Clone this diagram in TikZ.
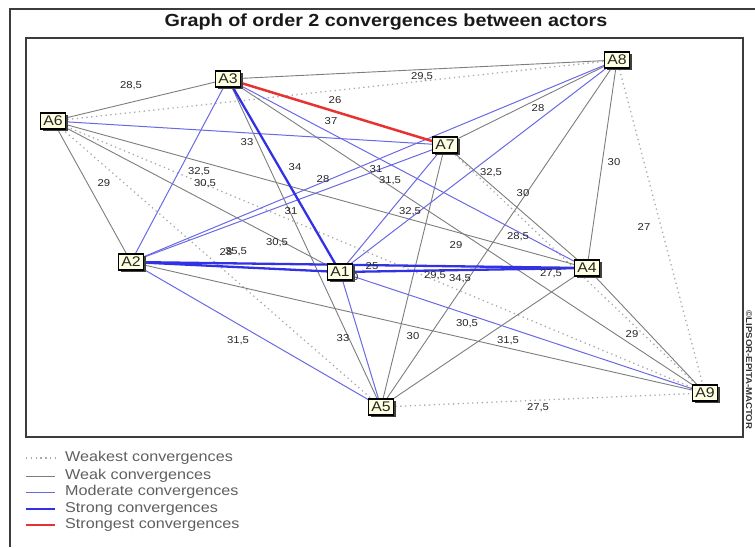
\documentclass[tikz,border=0pt]{standalone}
\usepackage{fontspec}
\setmainfont{Liberation Sans}[FakeStretch=1.13]
\usetikzlibrary{shadows}
\pgfdeclarelayer{edges}
\pgfdeclarelayer{labels}
\pgfsetlayers{edges,labels,main}
\definecolor{weakc}{RGB}{125,125,125}
\definecolor{dotc}{RGB}{170,170,170}
\definecolor{modc}{RGB}{105,105,228}
\definecolor{strongc}{RGB}{50,50,228}
\definecolor{redc}{RGB}{232,50,50}
\definecolor{nodefill}{RGB}{255,255,225}
\definecolor{framec}{RGB}{60,60,60}
\definecolor{legtext}{RGB}{95,95,95}
\tikzset{
  actor/.style={draw=black, line width=1.2pt, fill=nodefill, minimum width=25pt, minimum height=16pt,
    inner sep=0pt, font=\fontsize{14}{14}\selectfont, text=black!85,
    drop shadow={shadow xshift=2pt, shadow yshift=-2pt, fill=black!75, opacity=1}},
  weakest/.style={dotc, line width=1.3pt, dash pattern=on 1.3pt off 3.5pt},
  weak/.style={weakc, line width=0.9pt},
  moderate/.style={modc, line width=1pt},
  strong/.style={strongc, line width=2.3pt},
  strongest/.style={redc, line width=2.5pt},
  lbl/.style={font=\fontsize{10}{10}\selectfont, text=black!85, inner sep=0pt},
  legtxt/.style={font=\fontsize{14.3}{14.3}\selectfont, text=legtext, anchor=west, inner sep=0pt}
}
\begin{document}
\begin{tikzpicture}[x=1pt, y=-1pt]
\useasboundingbox (0,0) rectangle (755,547);
% frames
\coordinate (fo1) at (10,547);
\coordinate (fo2) at (10,9);
\coordinate (fo3) at (755,9);
\draw[framec, line width=1.6pt] (fo1) -- (fo2) -- (fo3);
\draw[framec, line width=1.4pt] (26,38) rectangle (743,437);
% title
\node[font=\bfseries\fontsize{17.5}{17.5}\selectfont, text=black!90] (title) at (386,22) {Graph of order 2 convergences between actors};
% actors
\node[actor] (A1) at (340,272) {A1};
\node[actor] (A2) at (131,262) {A2};
\node[actor] (A3) at (228,79) {A3};
\node[actor] (A4) at (587,268) {A4};
\node[actor] (A5) at (381,407) {A5};
\node[actor] (A6) at (53,121) {A6};
\node[actor] (A7) at (445,145) {A7};
\node[actor] (A8) at (617,60) {A8};
\node[actor] (A9) at (705,393) {A9};
\begin{pgfonlayer}{edges}
% weakest
\draw[weakest] (A5.center) -- (A6.center);
\draw[weakest] (A5.center) -- (A9.center);
\draw[weakest] (A6.center) -- (A8.center);
\draw[weakest] (A6.center) -- (A9.center);
\draw[weakest] (A7.center) -- (A9.center);
\draw[weakest] (A8.center) -- (A9.center);
% weak
\draw[weak] (A1.center) -- (A6.center);
\draw[weak] (A2.center) -- (A6.center);
\draw[weak] (A2.center) -- (A9.center);
\draw[weak] (A3.center) -- (A5.center);
\draw[weak] (A3.center) -- (A6.center);
\draw[weak] (A3.center) -- (A8.center);
\draw[weak] (A3.center) -- (A9.center);
\draw[weak] (A4.center) -- (A5.center);
\draw[weak] (A4.center) -- (A6.center);
\draw[weak] (A4.center) -- (A7.center);
\draw[weak] (A4.center) -- (A8.center);
\draw[weak] (A4.center) -- (A9.center);
\draw[weak] (A5.center) -- (A7.center);
\draw[weak] (A5.center) -- (A8.center);
\draw[weak] (A7.center) -- (A8.center);
% moderate
\draw[moderate] (A1.center) -- (A5.center);
\draw[moderate] (A1.center) -- (A7.center);
\draw[moderate] (A1.center) -- (A8.center);
\draw[moderate] (A1.center) -- (A9.center);
\draw[moderate] (A2.center) -- (A3.center);
\draw[moderate] (A2.center) -- (A5.center);
\draw[moderate] (A2.center) -- (A7.center);
\draw[moderate] (A2.center) -- (A8.center);
\draw[moderate] (A3.center) -- (A4.center);
\draw[moderate] (A6.center) -- (A7.center);
% strong
\draw[strong] (A1.center) -- (A2.center);
\draw[strong] (A1.center) -- (A3.center);
\draw[strong] (A1.center) -- (A4.center);
\draw[strong] (A2.center) -- (A4.center);
% strongest
\draw[strongest] (A3.center) -- (A7.center);
\end{pgfonlayer}
\begin{pgfonlayer}{labels}
\node[lbl] (l1) at (131,86) {28,5};
\node[lbl] (l2) at (422,77) {29,5};
\node[lbl] (l3) at (335,100) {26};
\node[lbl] (l4) at (331,121) {37};
\node[lbl] (l5) at (538,108) {28};
\node[lbl] (l6) at (247,142) {33};
\node[lbl] (l7) at (295,167) {34};
\node[lbl] (l8) at (376,169) {31};
\node[lbl] (l9) at (390,181) {31,5};
\node[lbl] (l10) at (199,172) {32,5};
\node[lbl] (l11) at (205,184) {30,5};
\node[lbl] (l12) at (104,183) {29};
\node[lbl] (l13) at (323,179) {28};
\node[lbl] (l14) at (291,211) {31};
\node[lbl] (l15) at (491,173) {32,5};
\node[lbl] (l16) at (523,193) {30};
\node[lbl] (l17) at (614,162) {30};
\node[lbl] (l18) at (644,227) {27};
\node[lbl] (l19) at (410,212) {32,5};
\node[lbl] (l20) at (518,237) {28,5};
\node[lbl] (l21) at (456,245) {29};
\node[lbl] (l22) at (277,243) {30,5};
\node[lbl] (l23) at (226,252) {28};
\node[lbl] (l24) at (236,252) {35,5};
\node[lbl] (l25) at (372,266) {25};
\node[lbl] (l26) at (435,276) {29,5};
\node[lbl] (l27) at (460,279) {34,5};
\node[lbl] (l28) at (551,274) {27,5};
\node[lbl] (l29) at (632,334) {29};
\node[lbl] (l30) at (467,324) {30,5};
\node[lbl] (l31) at (508,341) {31,5};
\node[lbl] (l32) at (413,336) {30};
\node[lbl] (l33) at (343,338) {33};
\node[lbl] (l34) at (238,341) {31,5};
\node[lbl] (l35) at (538,408) {27,5};
\node[lbl] (l36) at (352,277) {30};
\end{pgfonlayer}
% copyright
\node[rotate=-90, font=\bfseries\fontsize{8.5}{9}\selectfont, text=black!80] (copy) at (749,370) {©LIPSOR-EPITA-MACTOR};
% legend
\coordinate (g1a) at (26,458); \coordinate (g1b) at (55,458);
\coordinate (g2a) at (26,476); \coordinate (g2b) at (55,476);
\coordinate (g3a) at (26,492); \coordinate (g3b) at (55,492);
\coordinate (g4a) at (26,509); \coordinate (g4b) at (55,509);
\coordinate (g5a) at (26,525); \coordinate (g5b) at (55,525);
\draw[weakest] (g1a) -- (g1b);
\draw[weak] (g2a) -- (g2b);
\draw[moderate] (g3a) -- (g3b);
\draw[strong] (g4a) -- (g4b);
\draw[strongest] (g5a) -- (g5b);
\node[legtxt] (t1) at (65,458) {Weakest convergences};
\node[legtxt] (t2) at (65,476) {Weak convergences};
\node[legtxt] (t3) at (65,492) {Moderate convergences};
\node[legtxt] (t4) at (65,509) {Strong convergences};
\node[legtxt] (t5) at (65,525) {Strongest convergences};
\end{tikzpicture}
\end{document}
